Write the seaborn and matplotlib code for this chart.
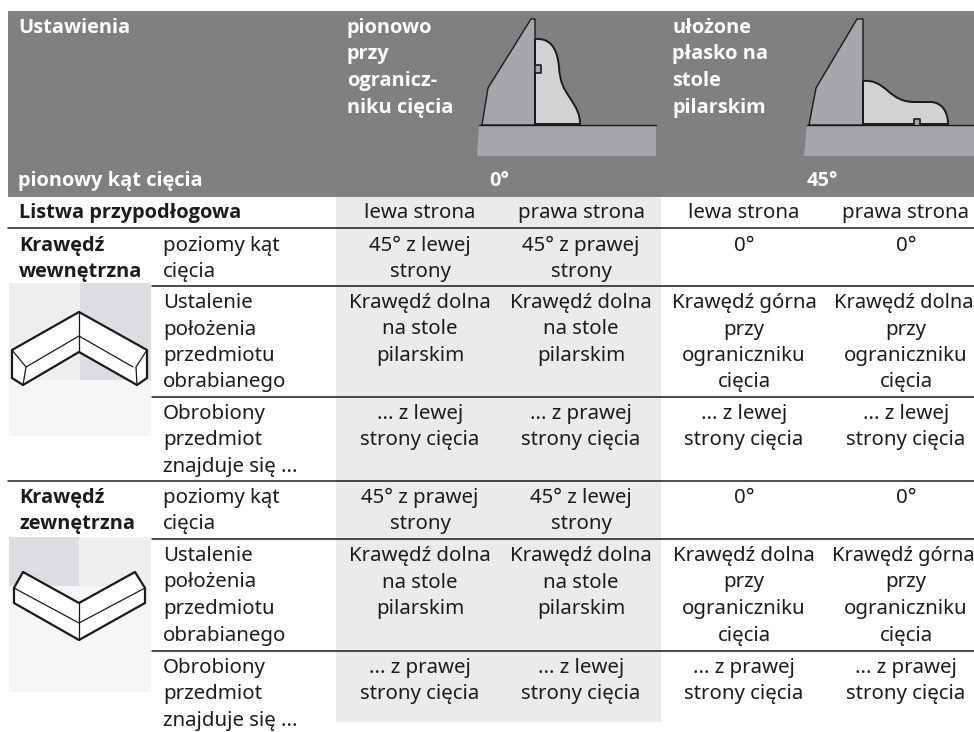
import matplotlib
matplotlib.use('Agg')
import matplotlib.pyplot as plt
from matplotlib.patches import PathPatch, Rectangle
from matplotlib.path import Path
import seaborn as sns

# Table text
header_title = 'Ustawienia'
header_angle = 'pionowy kąt cięcia'
header_col1 = ['pionowo', 'przy', 'ogranicz-', 'niku cięcia']
header_col2 = ['ułożone', 'płasko na', 'stole', 'pilarskim']
angle_labels = ['0°', '45°']
row_title = 'Listwa przypodłogowa'
side_labels = ['lewa strona', 'prawa strona', 'lewa strona', 'prawa strona']
group_inner = ['Krawędź', 'wewnętrzna']
group_outer = ['Krawędź', 'zewnętrzna']
row_labels = [
    ['poziomy kąt', 'cięcia'],
    ['Ustalenie', 'położenia', 'przedmiotu', 'obrabianego'],
    ['Obrobiony', 'przedmiot', 'znajduje się ...'],
]
inner_cells = [
    [['45° z lewej', 'strony'], ['45° z prawej', 'strony'], ['0°'], ['0°']],
    [['Krawędź dolna', 'na stole', 'pilarskim'], ['Krawędź dolna', 'na stole', 'pilarskim'],
     ['Krawędź górna', 'przy', 'ograniczniku', 'cięcia'], ['Krawędź dolna', 'przy', 'ograniczniku', 'cięcia']],
    [['... z lewej', 'strony cięcia'], ['... z prawej', 'strony cięcia'],
     ['... z lewej', 'strony cięcia'], ['... z lewej', 'strony cięcia']],
]
outer_cells = [
    [['45° z prawej', 'strony'], ['45° z lewej', 'strony'], ['0°'], ['0°']],
    [['Krawędź dolna', 'na stole', 'pilarskim'], ['Krawędź dolna', 'na stole', 'pilarskim'],
     ['Krawędź dolna', 'przy', 'ograniczniku', 'cięcia'], ['Krawędź górna', 'przy', 'ograniczniku', 'cięcia']],
    [['... z prawej', 'strony cięcia'], ['... z lewej', 'strony cięcia'],
     ['... z prawej', 'strony cięcia'], ['... z prawej', 'strony cięcia']],
]

# Layout in image pixels
col_centers = [420, 581, 744, 906]
line_step = 26.5
FS = 14.7
FS_BOLD = 14.4
INK = '#1c1c1c'
BOLD = ['Open Sans', 'DejaVu Sans']

sns.set_theme(style='white')
plt.rcParams['font.family'] = ['Noto Sans', 'DejaVu Sans']

fig = plt.figure(figsize=(9.74, 7.32), dpi=100)
ax = fig.add_axes([0, 0, 1, 1])
ax.set_xlim(0, 974)
ax.set_ylim(732, 0)
ax.axis('off')


def rect(x0, y0, x1, y1, color):
    ax.add_patch(Rectangle((x0, y0), x1 - x0, y1 - y0, fc=color, ec='none'))


def outline(xs, ys, lw=1.0):
    sns.lineplot(x=xs, y=ys, ax=ax, sort=False, estimator=None, color='#1a1a1a',
                 linewidth=lw, legend=False)


def shape(xs, ys, color, lw=1.0):
    ax.fill(xs, ys, fc=color, ec='none')
    outline(xs, ys, lw)


def bold(x, y, text, color=INK):
    ax.text(x, y, text, color=color, fontsize=FS_BOLD, fontweight='bold', family=BOLD)


def lines(x, baseline, texts, ha='left'):
    for i, t in enumerate(texts):
        # the long first line of the last column has to stay inside the page
        if x == col_centers[3] and t.startswith('Krawędź'):
            ax.text(x - 2.5, baseline, t, ha=ha, va='baseline', fontsize=FS - 0.3, color=INK)
            continue
        ax.text(x, baseline + i * line_step, t, ha=ha, va='baseline', fontsize=FS, color=INK)


def bold_lines(x, baseline, texts, color=INK):
    for i, t in enumerate(texts):
        bold(x, baseline + i * line_step, t, color)


# Backgrounds
rect(8, 11, 974, 197, '#808080')
rect(336, 197, 661, 722, '#ebebeb')

# Saw fence, table and workpiece in the header
GREY = '#a6a7aa'
LIGHT = '#d1d2d4'
M, C, L = Path.MOVETO, Path.CURVE4, Path.LINETO
ax.fill([479, 477, 656, 656], [125, 156, 156, 125], fc=GREY, ec='none')
outline([479, 656], [125, 125])
shape([482, 488, 531, 535, 535, 482], [125, 88, 19, 19, 125, 125], GREY)
ax.add_patch(PathPatch(Path(
    [(535, 39), (549, 38), (557, 46), (559, 67), (560, 83), (564, 89), (570, 98),
     (577, 109), (580, 114), (580, 124), (535, 124), (535, 39)],
    [M, C, C, C, C, C, C, C, C, C, L, L]), fc=LIGHT, ec='#1a1a1a', lw=1.4))
shape([535, 541, 541, 535], [65, 65, 73, 73], GREY, 1.2)

ax.fill([807, 804, 974, 974], [125, 156, 156, 125], fc=GREY, ec='none')
outline([807, 974], [125, 125])
shape([809, 816, 857, 863, 863, 809], [125, 88, 19, 19, 125, 125], GREY)
ax.add_patch(PathPatch(Path(
    [(863, 81), (873, 80), (880, 84), (888, 91), (896, 98), (903, 102), (915, 102),
     (930, 102), (942, 102), (948, 112), (948, 124), (863, 124), (863, 81)],
    [M, C, C, C, C, C, C, L, C, C, C, L, L]), fc=LIGHT, ec='#1a1a1a', lw=1.4))
shape([914, 914, 920, 920], [125, 119, 119, 125], GREY, 1.2)

# Header text
bold(18, 33, header_title, 'white')
bold(18, 186, header_angle, 'white')
bold_lines(347, 33, header_col1, 'white')
bold_lines(672, 33, header_col2, 'white')
bold(489, 186, angle_labels[0], 'white')
bold(807, 186, angle_labels[1], 'white')

# Corner illustrations
rect(9, 283, 151, 436, '#f6f6f6')
rect(9, 283, 80, 380, '#eeeeee')
rect(80, 283, 151, 380, '#dcdde0')
shape([79, 147, 147, 137, 79, 23, 12, 12, 79],
      [312, 350, 378, 385, 352, 385, 378, 350, 312], 'white', 1.6)
outline([79, 79], [312, 352], 0.9)
outline([26, 79, 133], [367, 336, 367], 0.9)
outline([12, 26, 23], [350, 367, 385], 0.9)
outline([147, 136, 137], [350, 367, 385], 0.9)

rect(9, 537, 151, 692, '#f6f6f6')
rect(9, 537, 79, 586, '#dcdde0')
rect(79, 537, 151, 586, '#eeeeee')
shape([23, 79, 135, 145, 145, 79, 14, 14, 23],
      [572, 603, 572, 588, 603, 640, 603, 588, 572], 'white', 1.6)
outline([79, 79], [603, 640], 0.9)
outline([14, 79, 145], [588, 623, 588], 0.9)

# Rules
for y, x0 in [(228, 8), (286, 152), (397, 152), (481, 8), (539, 152), (651, 152)]:
    outline([x0, 974], [y, y], 1.1)

# Body text
bold(19, 218, row_title)
for x, t in zip(col_centers, side_labels):
    ax.text(x, 218, t, ha='center', fontsize=FS, color=INK)

bold_lines(19, 251, group_inner)
bold_lines(19, 503, group_outer)

for start, cells in [([251, 308, 419], inner_cells), ([503, 561, 673], outer_cells)]:
    for base, label, row in zip(start, row_labels, cells):
        lines(163, base, label)
        for x, cell in zip(col_centers, row):
            lines(x, base, cell, ha='center')

fig.savefig('out.png', dpi=100)
